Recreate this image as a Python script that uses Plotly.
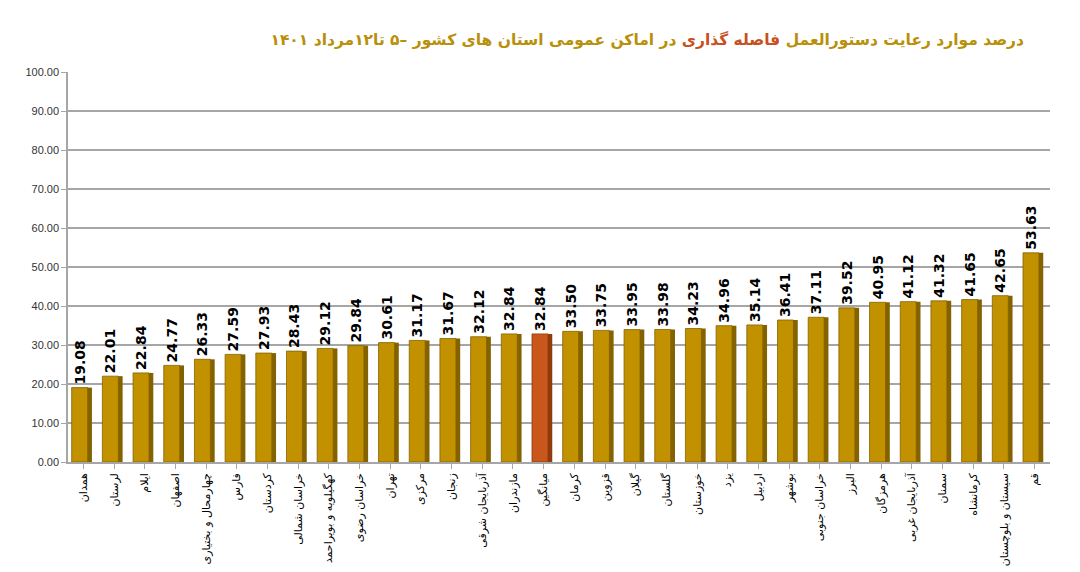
import plotly.graph_objects as go

# استان ها و درصد رعایت
provinces = ['همدان', 'لرستان', 'ایلام', 'اصفهان', 'چهارمحال و بختیاری', 'فارس', 'کردستان',
             'خراسان شمالی', 'کهگیلویه و بویراحمد', 'خراسان رضوی', 'تهران', 'مرکزی', 'زنجان',
             'آذربایجان شرقی', 'مازندران', 'میانگین', 'کرمان', 'قزوین', 'گیلان', 'گلستان',
             'خوزستان', 'یزد', 'اردبیل', 'بوشهر', 'خراسان جنوبی', 'البرز', 'هرمزگان',
             'آذربایجان غربی', 'سمنان', 'کرمانشاه', 'سیستان و بلوچستان', 'قم']
values = [19.08, 22.01, 22.84, 24.77, 26.33, 27.59, 27.93, 28.43, 29.12, 29.84, 30.61,
          31.17, 31.67, 32.12, 32.84, 32.84, 33.50, 33.75, 33.95, 33.98, 34.23, 34.96,
          35.14, 36.41, 37.11, 39.52, 40.95, 41.12, 41.32, 41.65, 42.65, 53.63]

gold = '#C29100'
avg_color = '#C9561A'
colors = [avg_color if p == 'میانگین' else gold for p in provinces]
sides = ['#8E3B0E' if p == 'میانگین' else '#846200' for p in provinces]

fig = go.Figure()
# سایه کناری ستون ها (جلوه سه بعدی)
fig.add_trace(go.Bar(
    x=provinces, y=values, offset=0.12, width=0.16,
    marker=dict(color=sides, line=dict(width=0)),
    hoverinfo='skip',
))
fig.add_trace(go.Bar(
    x=provinces, y=values, offset=-0.38, width=0.52,
    marker=dict(color=colors, line=dict(color=sides, width=0.8)),
    text=values, texttemplate='<b>%{y:.2f}</b>', textposition='outside', textangle=-90,
    constraintext='none',
    textfont=dict(family='DejaVu Sans', size=14, color='black'),
    cliponaxis=False,
))

title = ('<b>درصد موارد رعایت دستورالعمل <span style="color:#C8501E">فاصله گذاری</span>'
         ' در اماکن عمومی استان های کشور –۵ تا۱۲مرداد ۱۴۰۱</b>')
fig.update_layout(
    width=1080, height=572,
    paper_bgcolor='white', plot_bgcolor='white',
    margin=dict(l=60, r=38, t=64, b=118),
    barmode='overlay',
    title=dict(text=title, x=0.243, xanchor='left', y=0.944, yanchor='middle',
               font=dict(family='DejaVu Sans', size=15.5, color='#B8900A')),
    showlegend=False,
)
fig.update_yaxes(range=[0, 100], dtick=10, tickformat='.2f',
                 showgrid=True, gridcolor='#A6A6A6', gridwidth=1.5,
                 showline=True, linecolor='#A6A6A6', linewidth=1.5,
                 ticks='outside', ticklen=5, tickcolor='#A6A6A6',
                 tickfont=dict(family='Liberation Sans', size=11, color='#333333'))
fig.update_xaxes(tickangle=-90, showline=True, linecolor='#A6A6A6', linewidth=1.5,
                 ticks='outside', ticklen=5, tickcolor='#A6A6A6', automargin=False,
                 tickfont=dict(family='DejaVu Sans', size=11, color='black'))

fig.write_html("out.html")
